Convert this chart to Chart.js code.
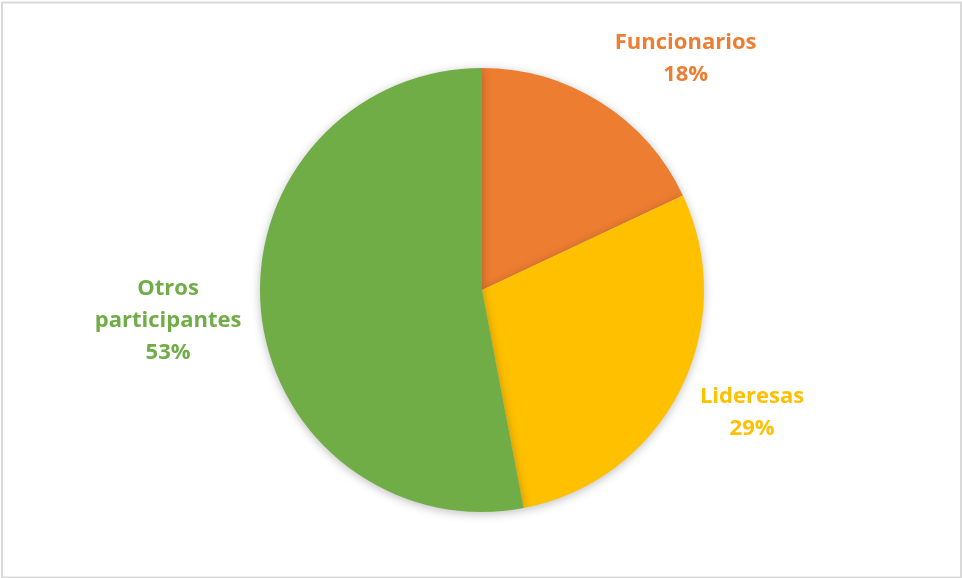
<!DOCTYPE html>
<html>
<head>
<meta charset="utf-8">
<script src="https://cdn.jsdelivr.net/npm/chart.js@4.4.1/dist/chart.umd.min.js"></script>
<style>
  html, body { margin: 0; padding: 0; background: #fff; }
  #wrap { width: 962px; height: 578px; position: relative; }
</style>
</head>
<body>
<div id="wrap"><canvas id="chart"></canvas></div>
<script>
// Data
const categories = ['Funcionarios', 'Lideresas', 'Otros participantes'];
const shares = [18, 29, 53];
const sliceColors = ['#ED7D31', '#FFC000', '#70AD47'];
// label lines (wrapped like the original)
const labelLines = [['Funcionarios'], ['Lideresas'], ['Otros', 'participantes']];

// Frame around the chart
const framePlugin = {
    id: 'frame',
    beforeDraw(chart) {
        const ctx = chart.ctx;
        ctx.save();
        ctx.fillStyle = '#fff';
        ctx.fillRect(0, 0, chart.width, chart.height);
        ctx.strokeStyle = '#D9D9D9';
        ctx.lineWidth = 2;
        ctx.strokeRect(2, 2.5, chart.width - 3, chart.height - 3);
        ctx.restore();
    }
};

// Soft shadow under the pie
const shadowPlugin = {
    id: 'pieShadow',
    beforeDatasetDraw(chart) {
        const ctx = chart.ctx;
        ctx.save();
        ctx.shadowColor = 'rgba(0,0,0,0.25)';
        ctx.shadowBlur = 10;
        ctx.shadowOffsetY = 2;
    },
    afterDatasetDraw(chart) {
        chart.ctx.restore();
    }
};

// Outside labels: name + percent, coloured like the slice
const outsideLabels = {
    id: 'outsideLabels',
    afterDatasetsDraw(chart, args, opts) {
        const ctx = chart.ctx;
        const meta = chart.getDatasetMeta(0);
        const total = shares.reduce((a, b) => a + b, 0);
        ctx.save();
        ctx.font = 'bold 22px "Open Sans"';
        ctx.textAlign = 'center';
        ctx.textBaseline = 'middle';
        meta.data.forEach((arc, i) => {
            const p = arc.getProps(['x', 'y', 'startAngle', 'endAngle', 'outerRadius'], true);
            const mid = (p.startAngle + p.endAngle) / 2;
            const dx = Math.cos(mid), dy = Math.sin(mid);
            const lines = labelLines[i].concat([Math.round(shares[i] / total * 100) + '%']);
            const lh = opts.lineHeight;
            const h = lines.length * lh;
            let w = 0;
            lines.forEach(t => { w = Math.max(w, ctx.measureText(t).width); });
            const shift = (opts.nudge && opts.nudge[i]) || [0, 0];
            const ax = p.x + dx * (p.outerRadius + opts.gap);
            const ay = p.y + dy * (p.outerRadius + opts.gap);
            const cx = ax + dx * w / 2 + shift[0];
            const cy = ay + dy * h / 2 + shift[1];
            ctx.fillStyle = sliceColors[i];
            lines.forEach((t, k) => {
                ctx.fillText(t, cx, cy - h / 2 + lh / 2 + k * lh);
            });
        });
        ctx.restore();
    }
};

const ctx = document.getElementById('chart').getContext('2d');
const pieChart = new Chart(ctx, {
    type: 'pie',
    data: {
        labels: categories,
        datasets: [{
            data: shares,
            backgroundColor: sliceColors,
            borderWidth: 0
        }]
    },
    options: {
        responsive: true,
        maintainAspectRatio: false,
        animation: false,
        layout: {
            padding: { top: 68, bottom: 66, left: 2, right: 0 }
        },
        plugins: {
            legend: { display: false },
            tooltip: { enabled: false },
            outsideLabels: { gap: 20, lineHeight: 32, nudge: [[36, 0], [8, -2], [0, 3]] }
        }
    },
    plugins: [framePlugin, shadowPlugin, outsideLabels]
});
</script>
</body>
</html>
